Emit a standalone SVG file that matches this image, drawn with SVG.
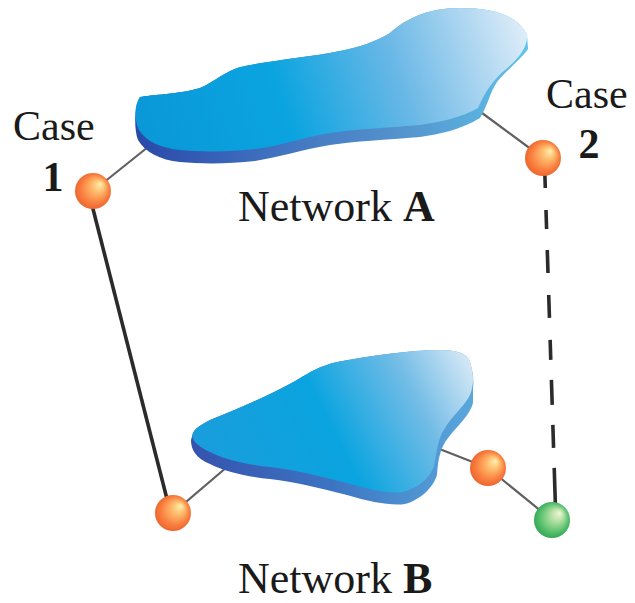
<svg xmlns="http://www.w3.org/2000/svg" width="635" height="603" viewBox="0 0 635 603">
<defs>
<style>
.lbl{font-family:"Liberation Serif","Times New Roman",serif;fill:#1a1a1a}
.b{font-weight:bold}
.thin{stroke:#606060;stroke-width:2.2;fill:none;stroke-linecap:round}
.thick{stroke:#2b2b2b;stroke-width:3.6;fill:none}
.orange{fill:url(#gOrange)}
.green{fill:url(#gGreen)}
</style>
<radialGradient id="gOrange" cx="0.5" cy="0.5" r="0.55" fx="0.72" fy="0.3">
<stop offset="0" stop-color="#fff0b0"/>
<stop offset="0.3" stop-color="#ffbf70"/>
<stop offset="0.7" stop-color="#fa8040"/>
<stop offset="1" stop-color="#ea5f2a"/>
</radialGradient>
<radialGradient id="gGreen" cx="0.5" cy="0.5" r="0.55" fx="0.72" fy="0.3">
<stop offset="0" stop-color="#f0f8d8"/>
<stop offset="0.3" stop-color="#b8e2a8"/>
<stop offset="0.7" stop-color="#5cc270"/>
<stop offset="1" stop-color="#2aa050"/>
</radialGradient>
<linearGradient id="gTopA" gradientUnits="userSpaceOnUse" x1="150" y1="145" x2="525" y2="15">
<stop offset="0" stop-color="#0a98d8"/>
<stop offset="0.35" stop-color="#0aa4e0"/>
<stop offset="0.65" stop-color="#6ab8e6"/>
<stop offset="1" stop-color="#e2eef9"/>
</linearGradient>
<linearGradient id="gBandA" gradientUnits="userSpaceOnUse" x1="135" y1="0" x2="530" y2="0">
<stop offset="0" stop-color="#2a48a8"/>
<stop offset="0.3" stop-color="#3d6cbd"/>
<stop offset="0.7" stop-color="#5596cf"/>
<stop offset="1" stop-color="#5cc4ea"/>
</linearGradient>
<linearGradient id="gTopB" gradientUnits="userSpaceOnUse" x1="210" y1="480" x2="470" y2="345">
<stop offset="0" stop-color="#1a9ddb"/>
<stop offset="0.45" stop-color="#0aa4e0"/>
<stop offset="0.75" stop-color="#72bce6"/>
<stop offset="1" stop-color="#e0edf8"/>
</linearGradient>
<linearGradient id="gBandB" gradientUnits="userSpaceOnUse" x1="190" y1="0" x2="475" y2="0">
<stop offset="0" stop-color="#3552ae"/>
<stop offset="0.5" stop-color="#3d74c2"/>
<stop offset="1" stop-color="#5aa8dc"/>
</linearGradient>
</defs>
<rect width="635" height="603" fill="#ffffff"/>

<g id="connectors">
<line class="thin" x1="93" y1="191" x2="148" y2="147"/>
<line class="thin" x1="478" y1="110" x2="543" y2="158"/>
<line class="thin" x1="173" y1="513" x2="227" y2="467"/>
<line class="thin" x1="437" y1="448" x2="488" y2="468"/>
<line class="thin" x1="488" y1="468" x2="552" y2="520"/>
<line class="thick" x1="92" y1="205" x2="167" y2="499"/>
<line class="thick" x1="544.6" y1="166" x2="555.4" y2="505" stroke-dasharray="22 22 19 21 23 22 23 22 20 20 25 20 23 20 37 10"/>
</g>

<g id="networkA">
<path fill="url(#gBandA)" d="M140,97 C150,95 180,94 200,88 C215,82 225,70 245,66 C275,60 310,57 340,51 C360,47 375,42 390,33 C405,20 425,8 460,8 C495,8 518,16 527,35 L528,49 C522,58 505,72 497,82 C490,92 488,105 480,118 C460,130 440,134 420,137 C385,140 355,141 330,145 C300,150 280,157 255,161 C230,164 200,164 180,162 C160,160 145,152 138,140 C134,130 134,108 140,97 Z"/>
<path fill="url(#gTopA)" d="M140,97 C150,95 180,94 200,88 C215,82 225,70 245,66 C275,60 310,57 340,51 C360,47 375,42 390,33 C405,20 425,8 460,8 C495,8 518,16 527,35 C528,46 520,58 505,70 C493,80 485,92 478,108 C460,118 440,122 420,125 C385,128 355,129 330,133 C300,138 280,146 255,149 C230,152 200,152 180,150 C160,148 146,141 139,130 C134,120 134,105 140,97 Z"/>
<text class="lbl" x="238" y="221" font-size="44">Network <tspan class="b">A</tspan></text>
</g>

<g id="networkB">
<path fill="url(#gBandB)" d="M193,433 C195,428 205,422 215,418 C240,408 270,395 297,380 C310,372 320,366 337,362 C370,356 410,350 440,350 C458,350 468,354 470,362 C473,372 474,380 473,388 L473,403 C470,415 458,425 448,438 C440,448 438,460 437,475 C433,488 420,500 405,504 C392,506 370,502 347,495 C320,488 295,482 270,479 C250,477 225,472 210,464 C196,458 191,450 191,440 Z"/>
<path fill="url(#gTopB)" d="M193,433 C195,428 205,422 215,418 C240,408 270,395 297,380 C310,372 320,366 337,362 C370,356 410,350 440,350 C458,350 468,354 470,362 C473,372 474,380 472,388 C470,402 455,412 445,428 C438,438 437,450 434,466 C430,478 418,488 403,492 C390,494 370,490 347,483 C320,476 295,470 270,467 C250,465 225,460 210,452 C198,446 190,440 193,433 Z"/>
<text class="lbl" x="238" y="593" font-size="44">Network <tspan class="b">B</tspan></text>
</g>

<g id="case1">
<circle class="orange" cx="93" cy="191" r="18"/>
<text class="lbl" x="13" y="140" font-size="42">Case</text>
<text class="lbl b" x="53" y="191" font-size="42" text-anchor="middle">1</text>
</g>

<g id="case2">
<circle class="orange" cx="543" cy="158" r="18"/>
<text class="lbl" x="546" y="108" font-size="42">Case</text>
<text class="lbl b" x="589" y="158" font-size="42" text-anchor="middle">2</text>
</g>

<g id="nodeB1">
<circle class="orange" cx="173" cy="513" r="18"/>
</g>
<g id="nodeB2">
<circle class="orange" cx="488" cy="468" r="18"/>
</g>
<g id="nodeGreen">
<circle class="green" cx="552" cy="520" r="18"/>
</g>
</svg>
